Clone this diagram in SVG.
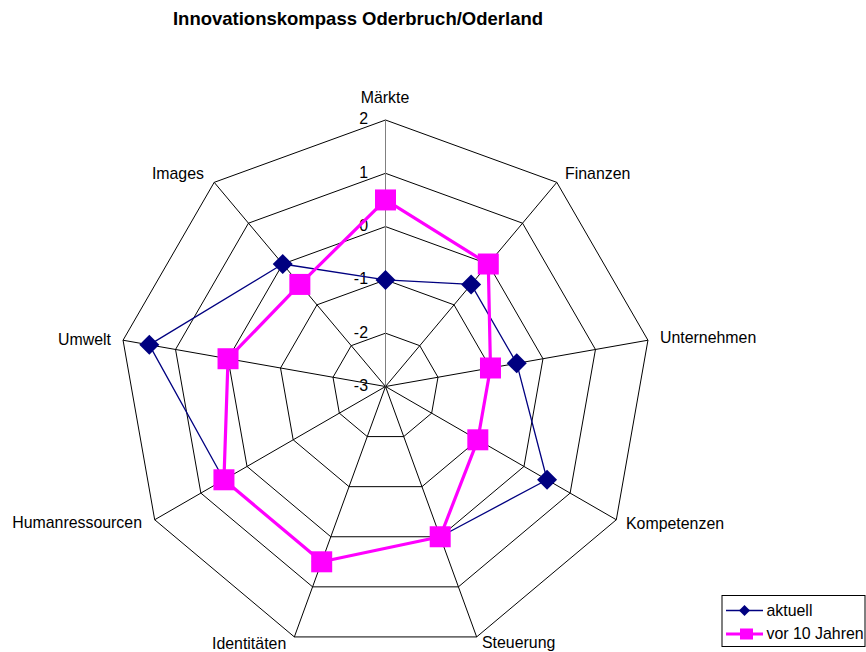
<svg xmlns="http://www.w3.org/2000/svg" width="866" height="652" viewBox="0 0 866 652">
  <style>
    text { font-family: "Liberation Sans", Arial, sans-serif; fill: #000; }
    .title { font-size: 18.5px; font-weight: bold; }
    .lbl { font-size: 15.9px; }
    .tick { font-size: 15.9px; text-anchor: end; }
    .ring { fill: none; stroke: #000; stroke-width: 1; }
    .spoke { stroke: #000; stroke-width: 1; }
    .axis { stroke: #808080; stroke-width: 1; }
    .s1 { fill: none; stroke: #000080; stroke-width: 1.3; stroke-linejoin: round; }
    .s2 { fill: none; stroke: #FF00FF; stroke-width: 3.2; stroke-linejoin: round; }
    .dia { fill: #000080; }
    .sq { fill: #FF00FF; }
  </style>
  <defs>
    <path id="diamond" d="M0,-10 L10,0 L0,10 L-10,0 Z"/>
    <rect id="square" x="-10.5" y="-10.5" width="21" height="21"/>
    <path id="diamondSmall" d="M0,-5.5 L5.5,0 L0,5.5 L-5.5,0 Z"/>
  </defs>

  <rect width="866" height="652" fill="#fff"/>

  <text class="title" x="358" y="25" text-anchor="middle">Innovationskompass Oderbruch/Oderland</text>

  <!-- grid: five rings and nine spokes -->
  <g id="grid">
    <polygon class="ring" points="385.5,333.2 419.76,345.67 437.99,377.24 431.66,413.15 403.73,436.59 367.27,436.59 339.34,413.15 333.01,377.24 351.24,345.67"/>
    <polygon class="ring" points="385.5,279.9 454.02,304.84 490.48,367.99 477.82,439.8 421.96,486.67 349.04,486.67 293.18,439.8 280.52,367.99 316.98,304.84"/>
    <polygon class="ring" points="385.5,226.6 488.28,264.01 542.97,358.73 523.98,466.45 440.19,536.76 330.81,536.76 247.02,466.45 228.03,358.73 282.72,264.01"/>
    <polygon class="ring" points="385.5,173.3 522.54,223.18 595.46,349.48 570.14,493.1 458.42,586.85 312.58,586.85 200.86,493.1 175.54,349.48 248.46,223.18"/>
    <polygon class="ring" points="385.5,120 556.8,182.35 647.95,340.22 616.3,519.75 476.65,636.93 294.35,636.93 154.7,519.75 123.05,340.22 214.2,182.35"/>
    <line class="spoke" x1="385.5" y1="386.5" x2="556.8" y2="182.35"/>
    <line class="spoke" x1="385.5" y1="386.5" x2="647.95" y2="340.22"/>
    <line class="spoke" x1="385.5" y1="386.5" x2="616.3" y2="519.75"/>
    <line class="spoke" x1="385.5" y1="386.5" x2="476.65" y2="636.93"/>
    <line class="spoke" x1="385.5" y1="386.5" x2="294.35" y2="636.93"/>
    <line class="spoke" x1="385.5" y1="386.5" x2="154.7" y2="519.75"/>
    <line class="spoke" x1="385.5" y1="386.5" x2="123.05" y2="340.22"/>
    <line class="spoke" x1="385.5" y1="386.5" x2="214.2" y2="182.35"/>
    <line class="axis" x1="385.5" y1="386.5" x2="385.5" y2="120"/>
  </g>

  <!-- value scale -->
  <g id="scale">
    <text class="tick" x="368" y="124">2</text>
    <text class="tick" x="368" y="177.5">1</text>
    <text class="tick" x="368" y="231">0</text>
    <text class="tick" x="368" y="284">-1</text>
    <text class="tick" x="368" y="338">-2</text>
    <text class="tick" x="368" y="391">-3</text>
  </g>

  <!-- category labels -->
  <g id="categories">
    <text class="lbl" x="385" y="103" text-anchor="middle">Märkte</text>
    <text class="lbl" x="565" y="179">Finanzen</text>
    <text class="lbl" x="660" y="343">Unternehmen</text>
    <text class="lbl" x="626" y="529">Kompetenzen</text>
    <text class="lbl" x="482" y="648">Steuerung</text>
    <text class="lbl" x="212" y="649">Identitäten</text>
    <text class="lbl" x="142" y="528" text-anchor="end">Humanressourcen</text>
    <text class="lbl" x="111" y="345" text-anchor="end">Umwelt</text>
    <text class="lbl" x="204" y="179" text-anchor="end">Images</text>
  </g>

  <!-- series: aktuell -->
  <g id="series-aktuell">
    <polygon class="s1" points="385.5,279.9 471.15,284.42 516.73,363.36 547.06,479.78 440.19,536.76 321.7,561.8 223.94,479.78 149.29,344.85 282.72,264.01"/>
    <use href="#diamond" class="dia" x="385.5" y="279.9"/>
    <use href="#diamond" class="dia" x="471.15" y="284.42"/>
    <use href="#diamond" class="dia" x="516.73" y="363.36"/>
    <use href="#diamond" class="dia" x="547.06" y="479.78"/>
    <use href="#diamond" class="dia" x="440.19" y="536.76"/>
    <use href="#diamond" class="dia" x="321.7" y="561.8"/>
    <use href="#diamond" class="dia" x="223.94" y="479.78"/>
    <use href="#diamond" class="dia" x="149.29" y="344.85"/>
    <use href="#diamond" class="dia" x="282.72" y="264.01"/>
  </g>

  <!-- series: vor 10 Jahren -->
  <g id="series-vor10">
    <polygon class="s2" points="385.5,199.95 488.28,264.01 490.48,367.99 477.82,439.8 440.19,536.76 321.7,561.8 223.94,479.78 228.03,358.73 299.85,284.42"/>
    <use href="#square" class="sq" x="385.5" y="199.95"/>
    <use href="#square" class="sq" x="488.28" y="264.01"/>
    <use href="#square" class="sq" x="490.48" y="367.99"/>
    <use href="#square" class="sq" x="477.82" y="439.8"/>
    <use href="#square" class="sq" x="440.19" y="536.76"/>
    <use href="#square" class="sq" x="321.7" y="561.8"/>
    <use href="#square" class="sq" x="223.94" y="479.78"/>
    <use href="#square" class="sq" x="228.03" y="358.73"/>
    <use href="#square" class="sq" x="299.85" y="284.42"/>
  </g>

  <!-- legend -->
  <g id="legend">
    <rect x="722" y="595.5" width="143" height="51" fill="#fff" stroke="#000" stroke-width="1"/>
    <line x1="726" y1="610.5" x2="763" y2="610.5" stroke="#000080" stroke-width="1.3"/>
    <use href="#diamondSmall" class="dia" x="744.5" y="610.5"/>
    <text class="lbl" x="766.5" y="615.5">aktuell</text>
    <line x1="726" y1="634" x2="763" y2="634" stroke="#FF00FF" stroke-width="3.2"/>
    <rect x="740" y="628.5" width="13" height="11" class="sq"/>
    <text class="lbl" x="766.5" y="639">vor 10 Jahren</text>
  </g>
</svg>
